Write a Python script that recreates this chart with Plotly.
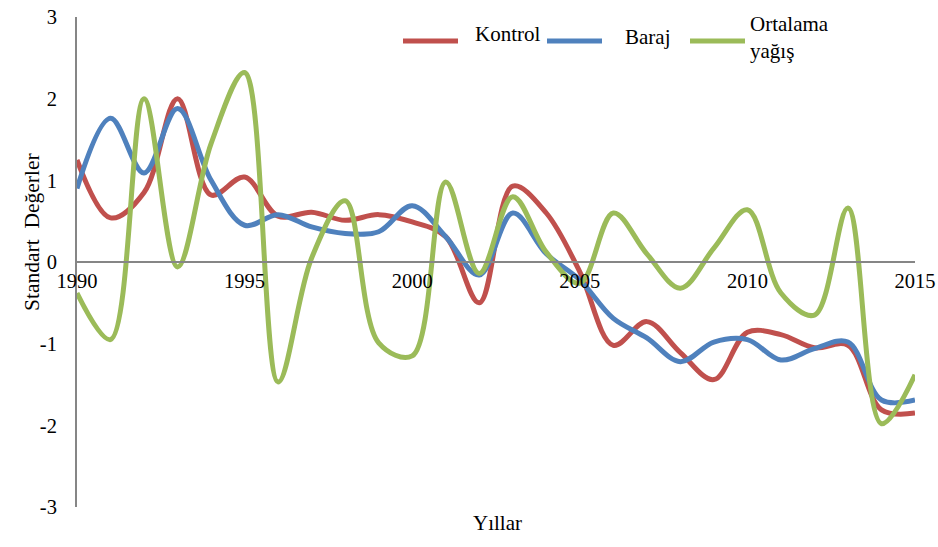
import plotly.graph_objects as go

years = list(range(1990, 2016))

kontrol = [1.25, 0.54, 0.85, 2.00, 0.82, 1.04, 0.56, 0.61, 0.51, 0.58, 0.49, 0.31, -0.50,
           0.93, 0.60, -0.12, -1.02, -0.73, -1.11, -1.44, -0.86, -0.89, -1.05, -1.02, -1.81, -1.85]
baraj = [0.90, 1.76, 1.09, 1.88, 1.00, 0.45, 0.58, 0.43, 0.35, 0.37, 0.69, 0.31, -0.16,
         0.60, 0.10, -0.22, -0.69, -0.93, -1.22, -0.98, -0.95, -1.20, -1.06, -0.98, -1.69, -1.69]
yagis = [-0.38, -0.95, 2.00, -0.06, 1.45, 2.32, -1.47, 0.05, 0.75, -0.99, -1.15, 0.98, -0.14,
         0.80, 0.12, -0.26, 0.60, 0.10, -0.32, 0.17, 0.64, -0.38, -0.65, 0.66, -1.98, -1.38]

series_names = ["Kontrol", "Baraj", "Ortalama<br>yağış"]
series_values = [kontrol, baraj, yagis]
series_colors = ["#C0504D", "#4F81BD", "#9BBB59"]

x_ticks = [1990, 1995, 2000, 2005, 2010, 2015]
y_ticks = [-3, -2, -1, 0, 1, 2, 3]

FONT = "Liberation Serif, Times New Roman, serif"
W, H = 938, 547
ML, MR, MT, MB = 77, 23, 17, 40
PW, PH = W - ML - MR, H - MT - MB


def px(xp):
    return (xp - ML) / PW


def py(yp):
    return (H - MB - yp) / PH


fig = go.Figure()
for name, vals, color in zip(series_names, series_values, series_colors):
    fig.add_trace(go.Scatter(
        x=years, y=vals, name=name, mode="lines", showlegend=False,
        line=dict(color=color, width=5, shape="spline", smoothing=1.0),
    ))

# legend drawn as line samples plus labels across the top
legend_lines = [(403, 458), (547, 602), (690, 745)]
legend_labels = [(473, 34), (623, 37), (748, 37)]
shapes = []
annotations = []
for (x0, x1), (tx, ty), name, color in zip(legend_lines, legend_labels, series_names, series_colors):
    shapes.append(dict(type="line", xref="paper", yref="paper",
                       x0=px(x0), x1=px(x1), y0=py(41), y1=py(41),
                       line=dict(color=color, width=5)))
    annotations.append(dict(text=name, x=px(tx), y=py(ty), xref="paper", yref="paper",
                            xanchor="left", yanchor="middle", align="left", showarrow=False,
                            font=dict(family=FONT, size=21, color="black")))

annotations.append(dict(text="Yıllar", x=px(497), y=py(537), xref="paper", yref="paper",
                        showarrow=False, font=dict(family=FONT, size=21, color="black")))
annotations.append(dict(text="Standart\u00a0\u00a0Değerler", x=px(18), y=py(232),
                        xref="paper", yref="paper", showarrow=False, textangle=-90,
                        font=dict(family=FONT, size=21.5, color="black")))

fig.update_layout(
    width=W, height=H,
    margin=dict(l=ML, r=MR, t=MT, b=MB, autoexpand=False),
    paper_bgcolor="white", plot_bgcolor="white",
    font=dict(family=FONT, size=20, color="black"),
    showlegend=False,
    xaxis=dict(
        range=[1990, 2015], tickvals=x_ticks, ticktext=[str(v) for v in x_ticks],
        showgrid=False, zeroline=False, showline=True, linecolor="#868686", linewidth=2,
        anchor="free", position=0.5, ticks="", ticklen=0, automargin=False,
        tickfont=dict(family=FONT, size=20.5, color="black"),
    ),
    yaxis=dict(
        range=[-3, 3], tickvals=y_ticks, ticktext=[str(v) for v in y_ticks],
        showgrid=False, zeroline=False, showline=True, linecolor="#868686", linewidth=2,
        ticks="", ticklen=0, ticklabelstandoff=14, automargin=False,
        tickfont=dict(family=FONT, size=20.5, color="black"),
    ),
    shapes=shapes,
    annotations=annotations,
)

fig.write_html("out.html")
